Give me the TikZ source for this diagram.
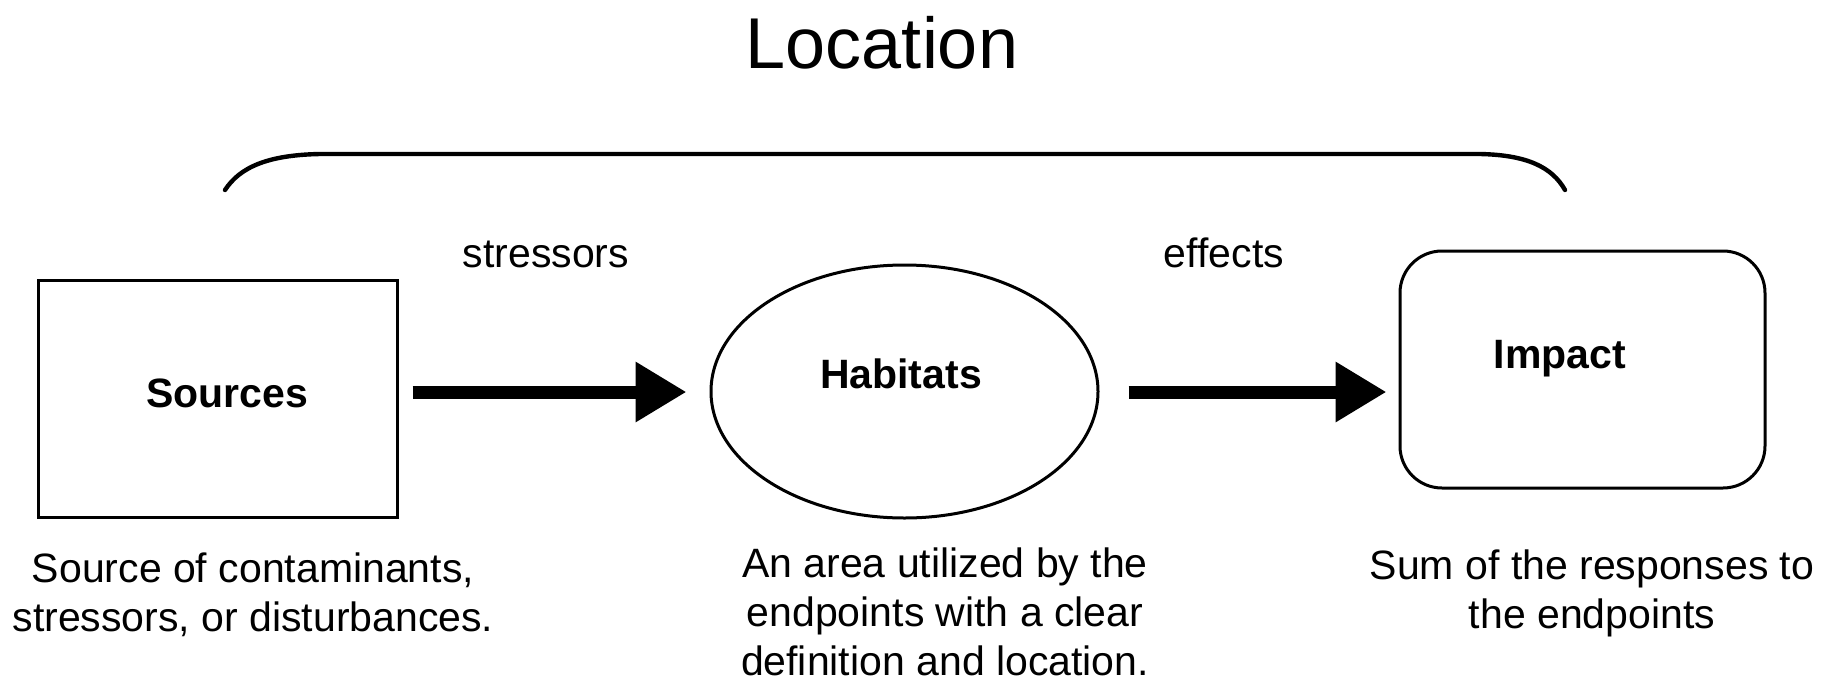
\documentclass[tikz,border=0pt]{standalone}
\usepackage{fontspec}
\setmainfont{Liberation Sans}
\usetikzlibrary{arrows.meta,shapes.geometric}
\begin{document}
\begin{tikzpicture}[x=0.5pt,y=-0.5pt,
  lbl/.style={font=\fontsize{20.5}{24.5}\selectfont, inner sep=0pt, anchor=base},
  blbl/.style={font=\fontsize{20.5}{24.5}\selectfont\bfseries, inner sep=0pt, anchor=base},
  captxt/.style={font=\fontsize{20.5}{24.5}\selectfont, inner sep=0pt, align=center},
  shp/.style={draw=black, line width=1.5pt, inner sep=0pt},
  bigarrow/.style={line width=6.5pt, -{Triangle[length=25.5pt,width=28.5pt]}}
]
\path[use as bounding box, fill=white] (0,0) rectangle (1831,691);

% title and bracket
\node[lbl, font=\fontsize{36}{40}\selectfont] (title) at (882,68) {Location};
\coordinate (bl) at (225,190);
\coordinate (br) at (1565,190);
\draw[line width=2.2pt, line cap=round] (bl) .. controls (240,167) and (268,155) .. (320,154)
  -- (1480,154) .. controls (1527,155) and (1552,167) .. (br);

% shapes
\node[shp, rectangle, minimum width=179.5pt, minimum height=118.5pt] (src) at (217.5,398.5) {};
\node[shp, ellipse, minimum width=193.5pt, minimum height=126.5pt] (hab) at (904.5,391.5) {};
\node[shp, rectangle, rounded corners=21pt, minimum width=182.5pt, minimum height=118.5pt] (imp) at (1582.5,369.5) {};

% labels in shapes
\node[blbl] (srcl) at (227,407) {Sources};
\node[blbl] (habl) at (901,388) {Habitats};
\node[blbl] (impl) at (1560,368) {Impact};

% arrows
\draw[bigarrow, shorten <=7pt, shorten >=11.5pt] (src.east |- 0,392) -- (hab.west |- 0,392);
\draw[bigarrow, shorten <=14.5pt, shorten >=6pt] (hab.east |- 0,392) -- (imp.west |- 0,392);
\node[lbl] (str) at (546,267) {stressors};
\node[lbl] (eff) at (1224,267) {effects};

% captions
\node[captxt] (c1) at (253,595) {Source of contaminants,\\stressors, or disturbances.};
\node[captxt] (c2) at (945,612) {An area utilized by the\\endpoints with a clear\\definition and location.};
\node[captxt] (c3) at (1592,593) {Sum of the responses to\\the endpoints};
\end{tikzpicture}
\end{document}
